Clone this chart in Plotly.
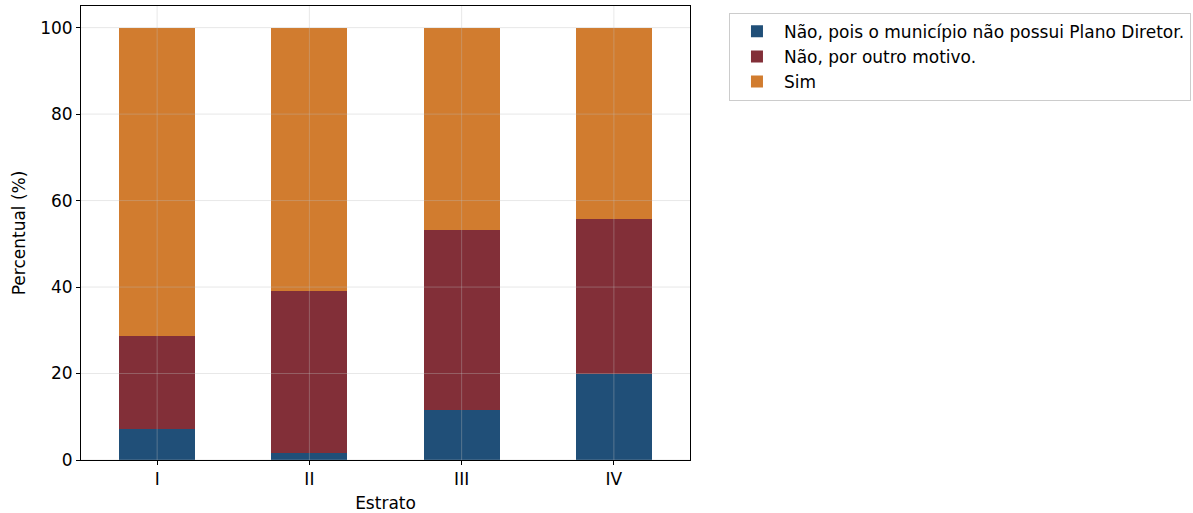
import plotly.graph_objects as go

categories = ["I", "II", "III", "IV"]
nao_sem_plano = [7.1, 1.7, 11.6, 20.0]
nao_outro = [21.6, 37.4, 41.5, 35.7]
sim = [71.3, 60.9, 46.9, 44.3]

series_names = ["Não, pois o município não possui Plano Diretor.", "Não, por outro motivo.", "Sim"]
colors = ["#204f78", "#822f38", "#d17c2f"]
y_ticks = [0, 20, 40, 60, 80, 100]

fig = go.Figure()
for name, vals, col in zip(series_names, [nao_sem_plano, nao_outro, sim], colors):
    fig.add_trace(go.Bar(x=categories, y=vals, name=name, marker=dict(color=col, line=dict(width=0)), width=0.5))

grid_col = "rgba(190,190,190,0.35)"
for t in y_ticks:
    fig.add_shape(type="line", xref="paper", yref="y", x0=0, x1=1, y0=t, y1=t,
                  line=dict(color=grid_col, width=1), layer="above")
for c in categories:
    fig.add_shape(type="line", xref="x", yref="paper", x0=c, x1=c, y0=0, y1=1,
                  line=dict(color=grid_col, width=1), layer="above")

font = "DejaVu Sans, sans-serif"
fig.update_layout(
    barmode="stack",
    width=1193, height=513,
    margin=dict(l=81, r=503, t=6, b=53, autoexpand=False),
    plot_bgcolor="white", paper_bgcolor="white",
    font=dict(family=font, size=15, color="black"),
    legend=dict(x=1.064, y=0.985, xanchor="left", yanchor="top",
                bordercolor="#cccccc", borderwidth=1, font=dict(size=17),
                traceorder="normal", itemsizing="constant", itemwidth=44),
    xaxis=dict(title=dict(text="Estrato", standoff=10, font=dict(size=17)), range=[-0.5, 3.5], showgrid=False,
               showline=True, linecolor="black", linewidth=1, mirror=True,
               ticks="outside", ticklen=4, tickcolor="black", tickfont=dict(size=17)),
    yaxis=dict(title=dict(text="Percentual (%)", standoff=10, font=dict(size=17)), range=[0, 105], tickvals=y_ticks,
               showgrid=False, zeroline=False,
               showline=True, linecolor="black", linewidth=1, mirror=True,
               ticks="outside", ticklen=4, tickcolor="black", tickfont=dict(size=17)),
)

fig.write_html("out.html", config={"displayModeBar": False},
               post_script="document.body.style.margin='0';document.body.style.padding='0';")
